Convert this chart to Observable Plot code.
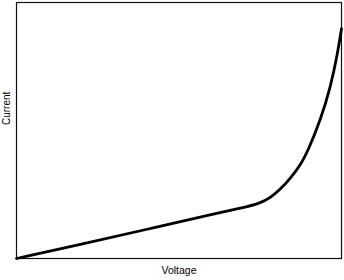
<!DOCTYPE html>
<html><head><meta charset="utf-8">
<script src="https://cdn.jsdelivr.net/npm/d3@7"></script>
<script src="https://cdn.jsdelivr.net/npm/@observablehq/plot@0.6"></script>
<style>body{margin:0;background:#fff;}</style>
</head><body><div id="chart"></div>
<script>
const voltage = [0, 19.7, 41.2, 62.8, 68.9, 75.1, 78.2, 81.2, 84.3, 87.4, 89.8, 93.5, 96.6, 98.8, 100];
const current = [0, 5.5, 11.7, 18.0, 19.6, 21.6, 23.8, 27.0, 31.4, 36.5, 42.4, 54.0, 66.8, 80.1, 89.8];
const xLabel = "Voltage";
const yLabel = "Current";
const data = voltage.map((v, i) => ({v, c: current[i]}));
const chart = Plot.plot({
  width: 344, height: 280,
  marginLeft: 16, marginRight: 3, marginTop: 2, marginBottom: 22,
  style: {fontFamily: "'Liberation Sans', Arial, sans-serif", background: "#fff"},
  x: {domain: [0, 100], axis: null},
  y: {domain: [0, 100], axis: null},
  marks: [
    Plot.frame({stroke: "#111", strokeWidth: 1.2}),
    Plot.line(data, {x: "v", y: "c", curve: "basis", stroke: "#000", strokeWidth: 2.8}),
    Plot.text([xLabel], {frameAnchor: "bottom", text: d => d, dy: 8, lineAnchor: "top", fontSize: 10.5, fill: "#000"}),
    Plot.text([yLabel], {frameAnchor: "left", text: d => d, rotate: -90, dx: -9.5, dy: -5.5, fontSize: 10, fill: "#000"})
  ]
});
document.getElementById("chart").append(chart);
</script></body></html>
